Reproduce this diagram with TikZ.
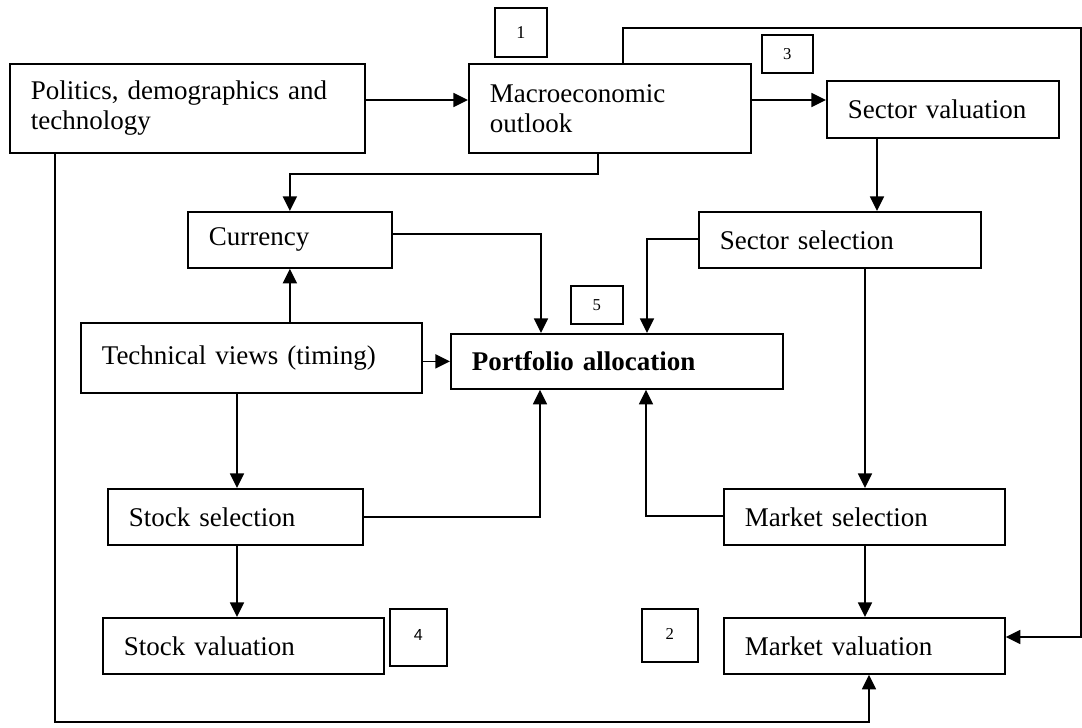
\documentclass[tikz,border=0pt]{standalone}
\usepackage{fontspec}
\setmainfont{Liberation Serif}
\newfontfamily\numsans{Liberation Sans}
\usetikzlibrary{arrows.meta}
\begin{document}
\begin{tikzpicture}[x=0.75pt,y=-0.75pt,
  bigbox/.style={draw,line width=1.3pt,anchor=north west,inner xsep=0pt,inner ysep=0pt,
    align=left,font=\fontsize{20.25pt}{22.5pt}\selectfont},
  numbox/.style={draw,line width=1.2pt,anchor=north west,inner sep=0pt,
    font=\fontsize{12.5pt}{14pt}\selectfont},
  arr/.style={line width=1.2pt,-{Triangle[length=11pt,width=10.5pt]}},
  plain/.style={line width=1.2pt}]
\useasboundingbox (0,0) rectangle (1082,728);
% main boxes
\node[bigbox,minimum width=266.25pt,minimum height=66.75pt,text width=234.75pt] (pol) at (9,63) {Politics, demographics and\\technology};
\node[bigbox,minimum width=211.5pt,minimum height=66.75pt,text width=180pt] (macro) at (468,63) {Macroeconomic\\outlook};
\node[bigbox,minimum width=174pt,minimum height=42.75pt,text width=142.5pt] (secval) at (826,80) {Sector valuation};
\node[bigbox,minimum width=153pt,minimum height=42pt,text width=121.5pt] (currency) at (187,211) {Currency};
\node[bigbox,minimum width=211.5pt,minimum height=42pt,text width=180pt] (secsel) at (698,211) {Sector selection};
\node[bigbox,minimum width=255.75pt,minimum height=52.5pt,text width=224.25pt] (tech) at (80,322) {Technical views (timing)};
\node[bigbox,minimum width=249pt,minimum height=41.25pt,text width=217.5pt,font=\fontsize{20.25pt}{22.5pt}\selectfont\bfseries] (port) at (450,333) {Portfolio allocation};
\node[bigbox,minimum width=191.25pt,minimum height=42pt,text width=159.75pt] (stocksel) at (107,488) {Stock selection};
\node[bigbox,minimum width=210.75pt,minimum height=42pt,text width=179.25pt] (stockval) at (102,617) {Stock valuation};
\node[bigbox,minimum width=210.75pt,minimum height=42pt,text width=179.25pt] (mktsel) at (723,488) {Market selection};
\node[bigbox,minimum width=210.75pt,minimum height=42pt,text width=179.25pt] (mktval) at (723,617) {Market valuation};
% number boxes
\node[numbox,minimum width=39pt,minimum height=36.75pt,font=\fontsize{13.5pt}{15pt}\selectfont] (n1) at (494,7) {1};
\node[numbox,minimum width=38.25pt,minimum height=28.5pt] (n3) at (761,34) {3};
\node[numbox,minimum width=39pt,minimum height=28.5pt] (n5) at (570,285) {5};
\node[numbox,minimum width=42.75pt,minimum height=42.75pt,font=\fontsize{12pt}{14pt}\selectfont\numsans] (n4) at (389,608) {\raisebox{3pt}{4}};
\node[numbox,minimum width=42pt,minimum height=39.75pt] (n2) at (641,608) {\raisebox{2pt}{2}};
% helper coordinates
\coordinate (y100) at (0,100);
\coordinate (c623) at (623,28);
\coordinate (rtop) at (1081,28);
\coordinate (rbot) at (1081,637);
\coordinate (mc) at (598,174);
\coordinate (cp) at (541,234);
\coordinate (sp) at (647,239);
\coordinate (ss) at (877,0);
\coordinate (sm) at (865,0);
\coordinate (mp) at (646,516);
\coordinate (ts) at (237,0);
\coordinate (spp) at (540,517);
\coordinate (pb) at (55,722);
\coordinate (pm) at (869,722);
% connectors
\draw[arr] (pol.east |- y100) -- (macro.west |- y100);
\draw[arr] (macro.east |- y100) -- (secval.west |- y100);
\draw[arr] (macro.north -| c623) -- (c623) -- (rtop) -- (rbot) -- (mktval.east |- rbot);
\draw[arr] (macro.south -| mc) -- (mc) -| (currency.north);
\draw[arr] (currency.east |- cp) -| (port.north -| cp);
\draw[arr] (secsel.west |- sp) -| (port.north -| sp);
\draw[arr] (secval.south -| ss) -- (secsel.north -| ss);
\draw[arr] (secsel.south -| sm) -- (mktsel.north -| sm);
\draw[arr] (mktsel.south -| sm) -- (mktval.north -| sm);
\draw[arr] (mktsel.west |- mp) -| (port.south -| mp);
\draw[arr] (tech.north -| currency.south) -- (currency.south);
\draw[arr] (tech.east |- port.west) -- (port.west);
\draw[arr] (tech.south -| ts) -- (stocksel.north -| ts);
\draw[arr] (stocksel.south -| ts) -- (stockval.north -| ts);
\draw[arr] (stocksel.east |- spp) -| (port.south -| spp);
\draw[arr] (pol.south -| pb) -- (pb) -- (pm) -- (mktval.south -| pm);
\end{tikzpicture}
\end{document}
